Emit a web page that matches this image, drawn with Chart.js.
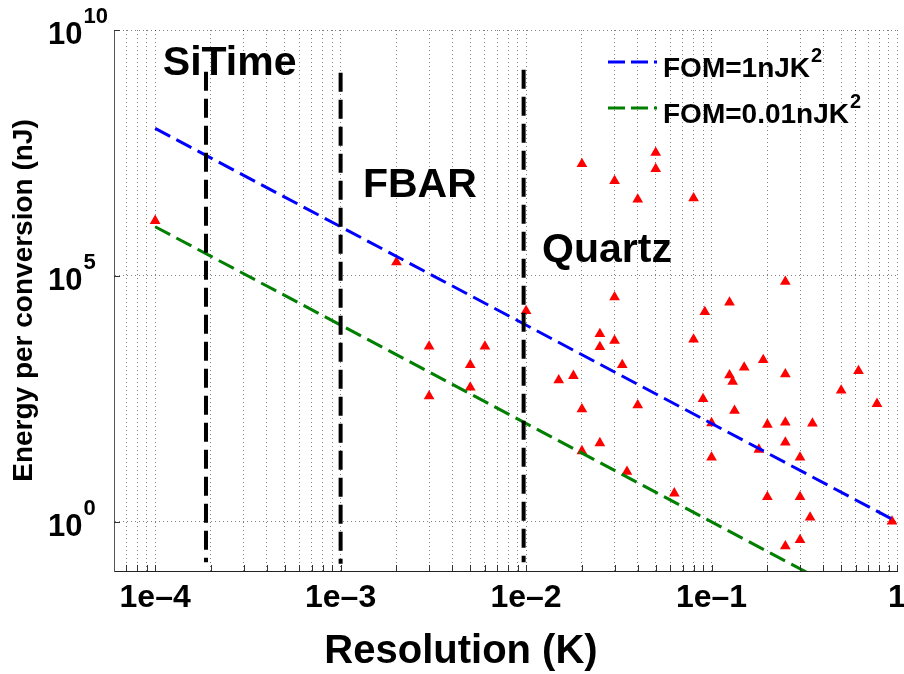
<!DOCTYPE html>
<html>
<head>
<meta charset="utf-8">
<script src="https://cdn.jsdelivr.net/npm/chart.js@4.4.0/dist/chart.umd.min.js"></script>
<style>
  html, body { margin: 0; padding: 0; background: #fff; }
  #wrap { width: 904px; height: 674px; }
</style>
</head>
<body>
<div id="wrap"><canvas id="chartFom" width="904" height="674"></canvas></div>
<script>
// sensors: resolution (K) and energy per conversion (nJ)
const resolution = [
  1e-4, 2e-3, 0.003, 0.003, 0.005, 0.005, 0.006, 0.01, 0.015, 0.018,
  0.02, 0.02, 0.02, 0.025, 0.025, 0.025, 0.03, 0.03, 0.03, 0.033,
  0.035, 0.04, 0.04, 0.05, 0.05, 0.063, 0.08, 0.08, 0.09, 0.092,
  0.1, 0.1, 0.125, 0.125, 0.13, 0.133, 0.15, 0.18, 0.19, 0.2,
  0.2, 0.25, 0.25, 0.25, 0.25, 0.25, 0.3, 0.3, 0.3, 0.34,
  0.35, 0.5, 0.62, 0.78, 0.94
];
const energy = [
  1.32e6, 1.9e5, 3700, 360, 1550, 540, 3700, 1.95e4, 760, 930,
  1.9e7, 195, 27.5, 6600, 3600, 40, 8.5e6, 3.7e4, 4800, 1550,
  10.5, 3.6e6, 235, 3.2e7, 1.5e7, 3.8, 3.8e6, 5100, 316, 1.86e4,
  102, 20.4, 2.9e4, 955, 710, 182, 1380, 29.5, 1950, 95,
  3.2, 7.6e4, 1000, 105, 41, 0.32, 20.4, 3.2, 0.43, 1.23,
  100, 468, 1175, 251, 1.02
];

// figure of merit lines, E = FOM / res^2
const fomRes = [1e-4, 1];
const fomHigh = [1e8, 1];      // FOM = 1 nJK^2
const fomLow = [1e6, 1e-2];    // FOM = 0.01 nJK^2

// technology dividers
const dividerRes = [1.88e-4, 1e-3, 9.7e-3];
const dividerTop = [1.42e9, 1.35e9, 1.55e9];
const dividerBottom = [0.15, 0.14, 0.15];

const regionNames = ['SiTime', 'FBAR', 'Quartz'];
const regionRes = [1.1e-4, 1.32e-3, 0.0122];
const regionEnergy = [1.23e9, 4.07e6, 1.93e5];

const xMajorTicks = [1e-4, 1e-3, 1e-2, 1e-1, 1];
const xTickLabels = ['1e\u20134', '1e\u20133', '1e\u20132', '1e\u20131', '1'];
const yMajorTicks = [1, 1e5, 1e10];
const yTickExponents = ['0', '5', '10'];

const legendLabels = ['FOM=1nJK', 'FOM=0.01nJK'];
const legendColors = ['#0000ff', '#007f00'];

const FONT = '"Liberation Sans", Arial, Helvetica, sans-serif';

// x grid: every 1..9 step of each decade
const xTicks = [];
for (let e = -5; e <= 0; e++) {
  for (let m = 1; m <= 9; m++) {
    const v = m * Math.pow(10, e);
    if (v >= 6.5e-5 && v <= 1.0000001) xTicks.push(v);
  }
}

function majorIndex(v) {
  return xMajorTicks.findIndex(t => Math.abs(Math.log10(t) - Math.log10(v)) < 1e-6);
}

const datasets = [];
for (let i = 0; i < dividerRes.length; i++) {
  datasets.push({
    data: [{x: dividerRes[i], y: dividerTop[i]}, {x: dividerRes[i], y: dividerBottom[i]}],
    showLine: true,
    borderColor: '#000',
    borderWidth: 4,
    borderDash: [19, 8],
    pointRadius: 0
  });
}
datasets.push({
  data: fomRes.map((r, i) => ({x: r, y: fomHigh[i]})),
  showLine: true, borderColor: legendColors[0], borderWidth: 3, borderDash: [17, 7], pointRadius: 0
});
datasets.push({
  data: fomRes.map((r, i) => ({x: r, y: fomLow[i]})),
  showLine: true, borderColor: legendColors[1], borderWidth: 3, borderDash: [17, 7], pointRadius: 0
});
datasets.push({
  data: resolution.map((r, i) => ({x: r, y: energy[i]})),
  showLine: false,
  pointStyle: 'triangle',
  pointRadius: 6.2,
  backgroundColor: '#ff0000',
  borderWidth: 0
});

const overlay = {
  id: 'overlay',
  afterDraw(chart) {
    const {ctx, chartArea: a} = chart;
    const x = chart.scales.x;
    const y = chart.scales.y;
    ctx.save();

    // inward ticks
    ctx.strokeStyle = '#333';
    ctx.lineWidth = 1;
    ctx.beginPath();
    x.ticks.forEach(t => {
      const px = Math.round(x.getPixelForValue(t.value)) + 0.5;
      ctx.moveTo(px, a.bottom);
      ctx.lineTo(px, a.bottom - 6);
    });
    yMajorTicks.forEach(v => {
      const py = Math.round(y.getPixelForValue(v)) + 0.5;
      ctx.moveTo(a.left, py);
      ctx.lineTo(a.left + 6, py);
    });
    ctx.stroke();

    // y tick labels 10^n
    ctx.fillStyle = '#000';
    ctx.textAlign = 'left';
    ctx.textBaseline = 'alphabetic';
    yMajorTicks.forEach((v, i) => {
      const py = y.getPixelForValue(v);
      ctx.font = 'bold 31px ' + FONT;
      ctx.fillText('10', 48, py + 14);
      const w = ctx.measureText('10').width;
      ctx.font = 'bold 22px ' + FONT;
      ctx.fillText(yTickExponents[i], 48 + w + 1, py - 7);
    });

    // axis titles
    ctx.font = 'bold 40px ' + FONT;
    ctx.textAlign = 'center';
    ctx.fillText('Resolution (K)', 461, 663);
    ctx.save();
    ctx.translate(24, (a.top + a.bottom) / 2);
    ctx.rotate(-Math.PI / 2);
    ctx.font = 'bold 28px ' + FONT;
    ctx.textBaseline = 'middle';
    ctx.fillText('Energy per conversion (nJ)', 0, 0);
    ctx.restore();

    // region names
    ctx.textAlign = 'left';
    ctx.font = 'bold 41px ' + FONT;
    regionNames.forEach((name, i) => {
      ctx.fillText(name, x.getPixelForValue(regionRes[i]), y.getPixelForValue(regionEnergy[i]));
    });

    // legend
    legendLabels.forEach((label, i) => {
      const ly = 62 + i * 46;
      ctx.strokeStyle = legendColors[i];
      ctx.lineWidth = 3;
      ctx.setLineDash([17, 6]);
      ctx.beginPath();
      ctx.moveTo(608, ly);
      ctx.lineTo(657, ly);
      ctx.stroke();
      ctx.setLineDash([]);
      ctx.font = 'bold 28px ' + FONT;
      ctx.fillText(label, 663, ly + 15);
      const w = ctx.measureText(label).width;
      ctx.font = 'bold 20px ' + FONT;
      ctx.fillText('2', 663 + w + 1, ly);
    });

    ctx.restore();
  }
};

new Chart(document.getElementById('chartFom').getContext('2d'), {
  type: 'scatter',
  data: {datasets: datasets},
  options: {
    responsive: false,
    animation: false,
    events: [],
    layout: {padding: {left: 0, top: 30, right: 7, bottom: 0}},
    plugins: {legend: {display: false}, tooltip: {enabled: false}},
    scales: {
      x: {
        type: 'logarithmic',
        min: 6e-5,
        max: 1,
        afterBuildTicks: s => { s.ticks = xTicks.map(v => ({value: v})); },
        afterFit: s => { s.height = 103; s.paddingLeft = 0; s.paddingRight = 0; },
        ticks: {
          autoSkip: false,
          maxRotation: 0,
          padding: 8,
          color: '#000',
          font: {family: FONT, size: 32, weight: 'bold'},
          callback: v => { const k = majorIndex(v); return k >= 0 ? xTickLabels[k] : ''; }
        },
        grid: {color: 'rgba(0,0,0,0.5)', lineWidth: 1, drawTicks: false},
        border: {color: '#222', width: 1, dash: [1, 3]}
      },
      y: {
        type: 'logarithmic',
        min: 0.1,
        max: 1e10,
        afterBuildTicks: s => { s.ticks = yMajorTicks.map(v => ({value: v})); },
        afterFit: s => { s.width = 114; },
        ticks: {display: false},
        grid: {color: 'rgba(0,0,0,0.5)', lineWidth: 1, drawTicks: false},
        border: {color: '#555', width: 1, dash: [1, 3]}
      }
    }
  },
  plugins: [overlay]
});
</script>
</body>
</html>
